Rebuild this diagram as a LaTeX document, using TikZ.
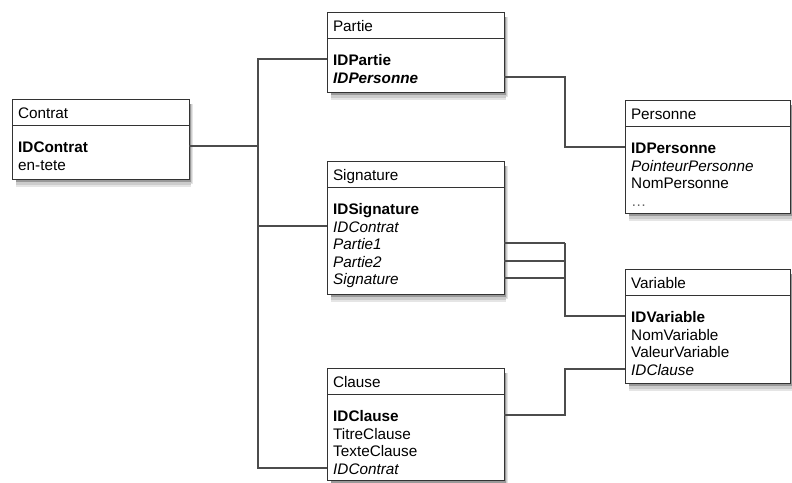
\documentclass[tikz,border=0pt]{standalone}
\usepackage{fontspec}
\setmainfont{Liberation Sans}
\usetikzlibrary{
    positioning
    }

\begin{document}
\begin{tikzpicture}[x=1pt, y=-1pt]
\tikzset{table head/.style =
        {
            rectangle,
            draw=black!80,
            line width=1pt,
            fill=white,
            anchor=north west,
            outer sep=0pt,
            inner xsep=6pt,
            inner ysep=0pt,
            minimum height=26pt,
            text width=#1,
            text height=14pt,
            text depth=2pt,
            align=left,
            font=\fontsize{15.3}{17}\selectfont
        }
}

\tikzset{table body/.style =
        {
            rectangle,
            draw=black!80,
            line width=1pt,
            fill=white,
            anchor=north west,
            outer sep=0pt,
            inner sep=0pt
        }
}

\tikzset{field/.style =
        {
            anchor=west,
            inner sep=0pt,
            text height=14pt,
            text depth=2pt,
            font=\fontsize{15.3}{17}\selectfont
        }
}

\tikzset{link/.style = {
            draw=black!70,
            line width=1.4pt
        }
}

\useasboundingbox (0,0) rectangle (792,482);

% soft shadows, drawn first as strokes along the bottom and right sides
\foreach \lft / \tp / \wide / \btm in
    {12/99/177/179,
        327/12/177/92,
        327/161/177/294,
        327/368/177/480,
        625/100/165/213,
        625/269/165/383}
    \foreach \off / \lw / \tone in {5/6/10, 3.5/4/20, 2/2.5/40}
        {
            \draw[black!\tone, line width=\lw pt] ({\lft+4},{\btm+\off}) -- ({\lft+\wide+2},{\btm+\off});
            \draw[black!\tone, line width=\lw/2 pt] ({\lft+\wide+\off/2},{\tp+5}) -- ({\lft+\wide+\off/2},{\btm+\off});
        }

% tables
\node[table head=165pt] (contrat) at (12,99) {Contrat};
\node[table body, minimum width=177pt, minimum height=54pt] (contrat-body) at (contrat.south west) {};

\node[table head=165pt] (partie) at (327,12) {Partie};
\node[table body, minimum width=177pt, minimum height=54pt] (partie-body) at (partie.south west) {};

\node[table head=165pt] (signature) at (327,161) {Signature};
\node[table body, minimum width=177pt, minimum height=107pt] (signature-body) at (signature.south west) {};

\node[table head=165pt] (clause) at (327,368) {Clause};
\node[table body, minimum width=177pt, minimum height=86pt] (clause-body) at (clause.south west) {};

\node[table head=153pt] (personne) at (625,100) {Personne};
\node[table body, minimum width=165pt, minimum height=87pt] (personne-body) at (personne.south west) {};

\node[table head=153pt] (variable) at (625,269) {Variable};
\node[table body, minimum width=165pt, minimum height=88pt] (variable-body) at (variable.south west) {};

% fields
\foreach \tab / \list in
    {contrat/{\textbf{IDContrat}, en-tete},
        partie/{\textbf{IDPartie}, \textbf{\textit{IDPersonne}}},
        signature/{\textbf{IDSignature}, \textit{IDContrat}, \textit{Partie1}, \textit{Partie2}, \textit{Signature}},
        clause/{\textbf{IDClause}, TitreClause, TexteClause, \textit{IDContrat}},
        personne/{\textbf{IDPersonne}, \textit{PointeurPersonne}, NomPersonne, \textcolor{black!60}{\dots}},
        variable/{\textbf{IDVariable}, NomVariable, ValeurVariable, \textit{IDClause}}}
    \foreach \field [count=\i] in \list
        \node[field] (\tab-\i) at ([shift={(6,{round(21+17.5*(\i-1))})}]\tab-body.north west) {\field};

\coordinate (bus) at (258,0);
\coordinate (relay) at (565,0);

% connectors
\draw[link] (contrat-body.east |- contrat-1) -- (bus |- contrat-1);
\draw[link] (partie-body.west |- partie-1) -| (bus |- clause-4) -- (clause-body.west |- clause-4);
\draw[link] (bus |- signature-2) -- (signature-body.west |- signature-2);

\draw[link] (partie-body.east |- partie-2) -| (relay |- personne-1) -- (personne-body.west |- personne-1);

\foreach \row in {3,4,5}
    \draw[link] (signature-body.east |- signature-\row) -- (relay |- signature-\row);
\draw[link] (relay |- signature-3) |- (variable-body.west |- variable-1);

\draw[link] (clause-body.east |- clause-1) -| (relay |- variable-4) -- (variable-body.west |- variable-4);

\end{tikzpicture}
\end{document}
